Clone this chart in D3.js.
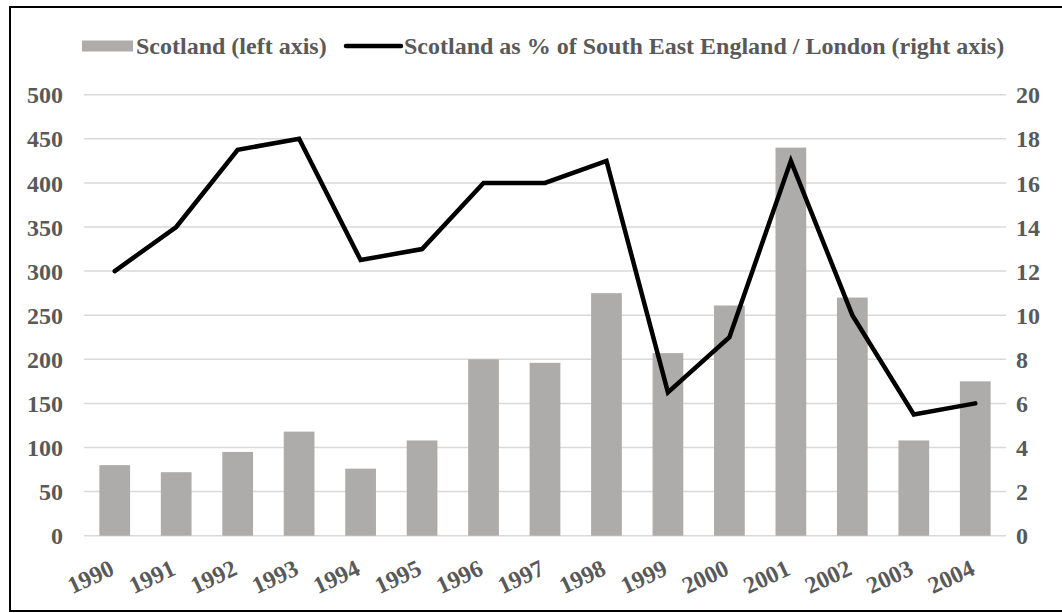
<!DOCTYPE html>
<html>
<head>
<meta charset="utf-8">
<script src="https://cdn.jsdelivr.net/npm/d3@7"></script>
<style>
  html, body { margin: 0; padding: 0; background: #fff; }
  svg { display: block; }
  svg text { font-family: "Liberation Serif", "Times New Roman", serif; font-weight: bold; fill: #595959; }
</style>
</head>
<body>
<svg id="chart" width="1062" height="613"></svg>
<script>
// Years on the category axis
const years = ["1990","1991","1992","1993","1994","1995","1996","1997","1998","1999","2000","2001","2002","2003","2004"];
// Scotland (left axis)
const scotland = [80, 72, 95, 118, 76, 108, 200, 196, 275, 207, 261, 440, 270, 108, 175];
// Scotland as % of South East England / London (right axis)
const scotlandPct = [12, 14, 17.5, 18, 12.5, 13, 16, 16, 17, 6.5, 9, 17, 10, 5.5, 6];
// Axis ticks
const leftTicks = [0, 50, 100, 150, 200, 250, 300, 350, 400, 450, 500];
const rightTicks = [0, 2, 4, 6, 8, 10, 12, 14, 16, 18, 20];

const svg = d3.select("#chart");
const plot = { left: 84, right: 1006, top: 94.7, bottom: 535.7 };
const fontStack = "'Liberation Serif', 'Times New Roman', serif";
const fs = 24;

// Outer frame
svg.append("rect")
  .attr("x", 10).attr("y", 7)
  .attr("width", 1060).attr("height", 604)
  .attr("fill", "none").attr("stroke", "#000").attr("stroke-width", 2);

const x = d3.scaleBand().domain(years).range([plot.left, plot.right]).paddingInner(0.5).paddingOuter(0.25);
const yL = d3.scaleLinear().domain([0, 500]).range([plot.bottom, plot.top]);
const yR = d3.scaleLinear().domain([0, 20]).range([plot.bottom, plot.top]);

// Horizontal gridlines
svg.append("g").selectAll("line").data(leftTicks).join("line")
  .attr("x1", plot.left).attr("x2", plot.right)
  .attr("y1", d => yL(d)).attr("y2", d => yL(d))
  .attr("stroke", "#d9d9d9").attr("stroke-width", 1.5);

function styleAxis(g) {
  g.attr("font-family", fontStack).attr("font-size", fs);
  g.select(".domain").remove();
  g.selectAll("text").attr("dy", "0.34em").attr("fill", "#595959");
}

// Left axis labels
const gL = svg.append("g").attr("transform", "translate(63,0)")
  .call(d3.axisLeft(yL).tickValues(leftTicks).tickSize(0).tickPadding(0));
styleAxis(gL);

// Right axis labels
const gR = svg.append("g").attr("transform", "translate(1016,0)")
  .call(d3.axisRight(yR).tickValues(rightTicks).tickSize(0).tickPadding(0));
styleAxis(gR);

// Bars
svg.append("g").selectAll("rect").data(years).join("rect")
  .attr("x", d => x(d))
  .attr("width", x.bandwidth())
  .attr("y", (d, i) => yL(scotland[i]))
  .attr("height", (d, i) => yL(0) - yL(scotland[i]))
  .attr("fill", "#aeabab");

// Line
const cx = d => x(d) + x.bandwidth() / 2;
const line = d3.line().x((d, i) => cx(years[i])).y(d => yR(d));
svg.append("path")
  .datum(scotlandPct)
  .attr("d", line)
  .attr("fill", "none").attr("stroke", "#000")
  .attr("stroke-width", 4.5).attr("stroke-linecap", "round").attr("stroke-linejoin", "miter");

// Rotated year labels
svg.append("g").attr("font-family", fontStack).selectAll("text").data(years).join("text")
  .attr("transform", d => `translate(${cx(d) + 1},574) rotate(-25)`)
  .attr("text-anchor", "end")
  .attr("font-size", fs)
  .text(d => d);

// Legend
const legY = 46;
const legend = svg.append("g").attr("font-family", fontStack).attr("font-size", fs);
legend.append("rect").attr("x", 82).attr("y", legY - 5.5).attr("width", 51).attr("height", 11).attr("fill", "#aeabab");
legend.append("text").attr("x", 136).attr("y", legY + 8).text("Scotland (left axis)");
legend.append("line").attr("x1", 346).attr("x2", 401).attr("y1", legY).attr("y2", legY)
  .attr("stroke", "#000").attr("stroke-width", 4.5).attr("stroke-linecap", "round");
legend.append("text").attr("x", 404).attr("y", legY + 8)
  .text("Scotland as % of South East England / London (right axis)");
</script>
</body>
</html>
